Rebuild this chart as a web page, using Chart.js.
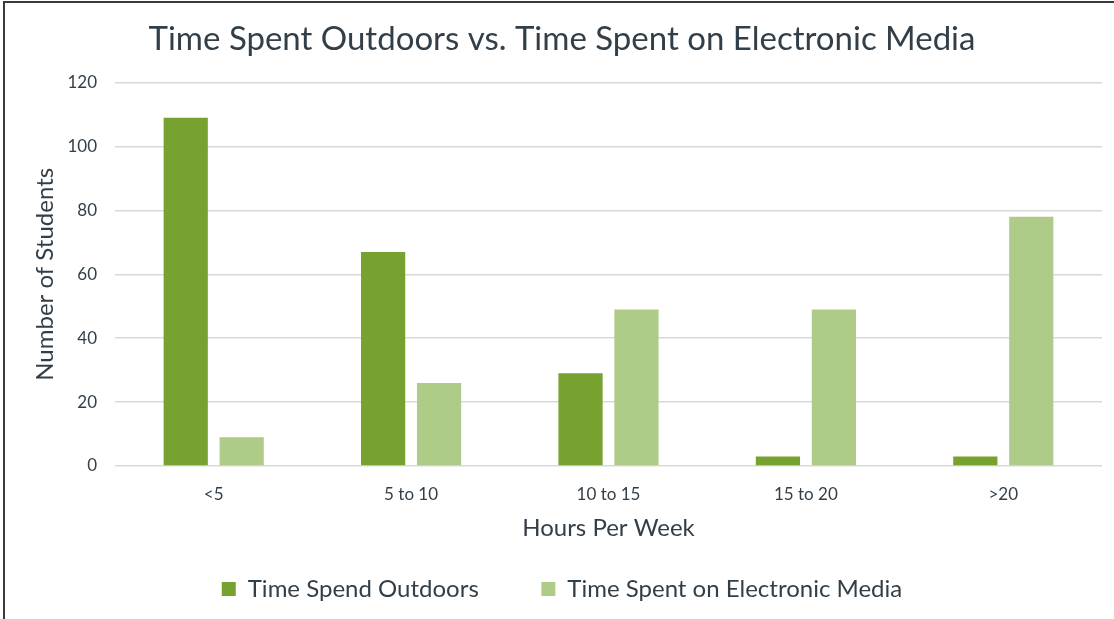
<!DOCTYPE html>
<html>
<head>
<meta charset="utf-8">
<script src="https://cdn.jsdelivr.net/npm/chart.js@4/dist/chart.umd.min.js"></script>
<style>
  html, body { margin: 0; padding: 0; background: #ffffff; }
  #wrap { position: relative; width: 1114px; height: 619px; overflow: hidden; }
  #hoursChart { position: absolute; left: 0; top: 0; }
  .edgeTop { position: absolute; left: 3px; top: 1px; width: 1111px; height: 2px; background: #3b3b3b; }
  .edgeLeft { position: absolute; left: 3px; top: 1px; width: 2px; height: 618px; background: #3b3b3b; }
</style>
</head>
<body>
<div id="wrap">
  <canvas id="hoursChart" width="1114" height="619"></canvas>
  <div class="edgeTop"></div>
  <div class="edgeLeft"></div>
</div>
<script>
// ------------------------
// Data
// ------------------------

const hourRanges = ["<5", "5 to 10", "10 to 15", "15 to 20", ">20"];

const outdoorStudents = [109, 67, 29, 3, 3];

const mediaStudents = [9, 26, 49, 49, 78];

const seriesNames = ["Time Spend Outdoors", "Time Spent on Electronic Media"];

const yTicks = [0, 20, 40, 60, 80, 100, 120];

// ------------------------
// Styles
// ------------------------

const textColor = "#333f48";
const gridColor = "#d9d9d9";
const fontFamily = "Lato, 'Open Sans', sans-serif";

new Chart(document.getElementById("hoursChart"), {

    type: "bar",

    data: {

        labels: hourRanges,

        datasets: [

            {
                label: seriesNames[0],
                data: outdoorStudents,
                backgroundColor: "#78a22f"
            },

            {
                label: seriesNames[1],
                data: mediaStudents,
                backgroundColor: "#afcb88"
            }

        ]

    },

    options: {

        responsive: false,
        animation: false,

        datasets: {
            bar: {
                barPercentage: 0.79,
                categoryPercentage: 0.567
            }
        },

        layout: {
            padding: { left: 22, right: 12, top: 0, bottom: 8 }
        },

        plugins: {

            title: {
                display: true,
                text: "Time Spent Outdoors vs. Time Spent on Electronic Media",
                color: textColor,
                font: { family: fontFamily, size: 33, weight: "normal" },
                padding: { top: 20, bottom: 23 }
            },

            legend: {
                position: "bottom",
                labels: {
                    color: textColor,
                    font: { family: fontFamily, size: 24 },
                    boxWidth: 14,
                    boxHeight: 14,
                    padding: 38,
                    // a little extra room between the two entries
                    generateLabels: chart => {
                        const items = Chart.defaults.plugins.legend.labels.generateLabels(chart);
                        items[0].text += "    ";
                        return items;
                    }
                }
            },

            tooltip: { enabled: false }

        },

        scales: {

            x: {
                afterFit: axis => {
                    axis.height = 73;
                },
                grid: { display: false, drawTicks: false },
                border: { display: false },
                ticks: {
                    color: textColor,
                    font: { family: fontFamily, size: 17 },
                    padding: 18
                },
                title: {
                    display: true,
                    text: "Hours Per Week",
                    color: textColor,
                    font: { family: fontFamily, size: 24 },
                    padding: { top: -4, bottom: -4 }
                }
            },

            y: {
                min: 0,
                max: 120,
                afterBuildTicks: axis => {
                    axis.ticks = yTicks.map(v => ({ value: v }));
                },
                afterFit: axis => {
                    axis.width = 93;
                },
                grid: {
                    color: gridColor,
                    lineWidth: 1.5,
                    drawTicks: false
                },
                border: { display: false },
                ticks: {
                    color: textColor,
                    font: { family: fontFamily, size: 17 },
                    padding: 18
                },
                title: {
                    display: true,
                    text: "Number of Students",
                    color: textColor,
                    font: { family: fontFamily, size: 24 },
                    padding: { top: 9, bottom: 0 }
                }
            }

        }

    }

});
</script>
</body>
</html>
